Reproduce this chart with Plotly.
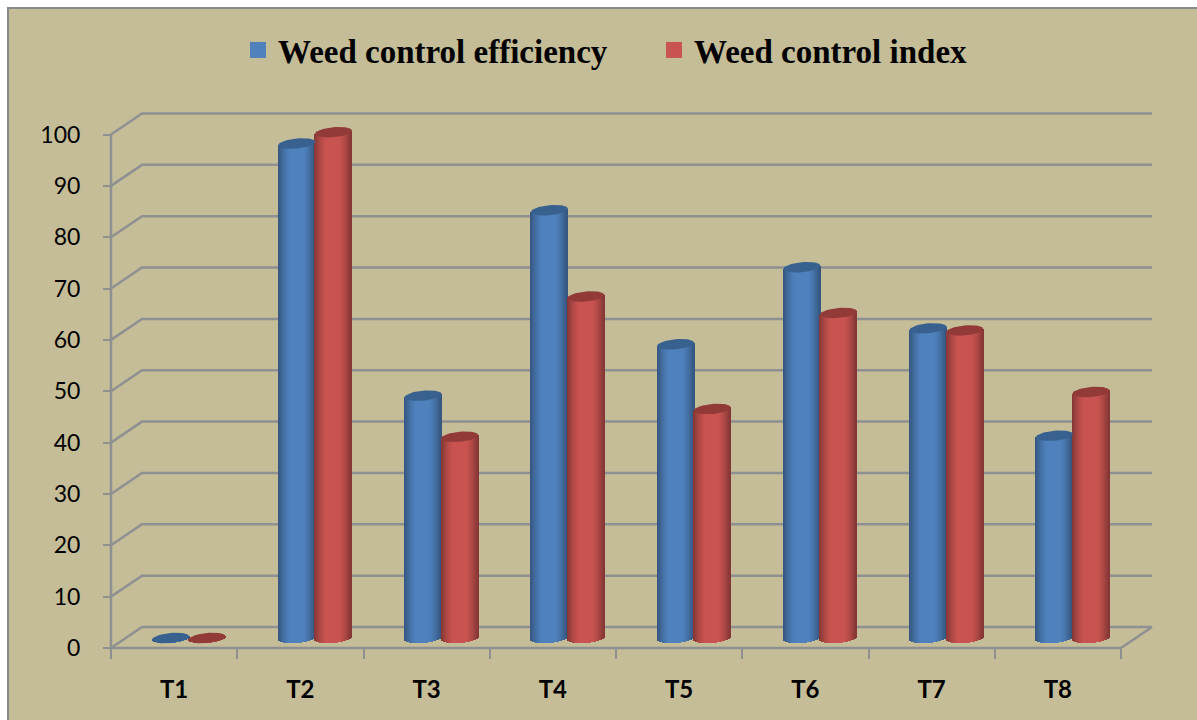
import numpy as np
import plotly.graph_objects as go

# Chart data
categories = ["T1", "T2", "T3", "T4", "T5", "T6", "T7", "T8"]
efficiency = [0, 96.3, 47.2, 83.3, 57.2, 72.2, 60.3, 39.4]
index_vals = [0, 98.5, 39.2, 66.5, 44.6, 63.3, 59.9, 47.9]
y_ticks = list(range(0, 101, 10))

# Figure geometry: one full-window subplot whose axes sit at free positions
W, H = 1197, 720
X0_PX, Y0_PX = 111, 648        # pixel position of the front origin
PX_PER_CAT = 126.25
PX_PER_UNIT = 5.135
x_left = -0.5 - X0_PX / PX_PER_CAT
x_range = [x_left, x_left + W / PX_PER_CAT]
y_range = [-(H - Y0_PX) / PX_PER_UNIT, Y0_PX / PX_PER_UNIT]
DX_WALL = 31 / PX_PER_CAT      # depth offset of the back wall
DY_WALL = 21 / PX_PER_UNIT
DY_MID = 10 / PX_PER_UNIT      # vertical depth offset of the cylinders

BAR_W = 37 / PX_PER_CAT
RY = 5 / PX_PER_UNIT           # vertical radius of the end ellipses
TILT = 1.6 / PX_PER_UNIT       # rise of the ellipses towards the right
N_STRIPS = 37
GRID = "#8f9092"
BG = "#C4BD97"

series = [
    dict(name="Weed control efficiency", vals=efficiency, base=(79, 129, 189),
         cap="#38618f", shift=-3.5 / PX_PER_CAT),
    dict(name="Weed control index", vals=index_vals, base=(200, 83, 80),
         cap="#913a38", shift=33 / PX_PER_CAT),
]


def shade(rgb, u):
    """Cylinder shading: lit across the middle, darker at both edges."""
    k = 1 - 0.34 * min(1, max(0, (abs(u) - 0.35) / 0.65)) ** 1.4
    return "rgb({},{},{})".format(*[int(c * k) for c in rgb])


fig = go.Figure()
t = np.linspace(0, 2 * np.pi, 49)
x_cat = np.arange(len(categories), dtype=float)

for s in series:
    centers = x_cat + s["shift"]
    vals = np.array(s["vals"], dtype=float)
    # The cylinder body is a run of narrow vertical bars with shaded colours
    for k in range(N_STRIPS):
        u = (k + 0.5) / N_STRIPS * 2 - 1
        foot = DY_MID - RY * np.sqrt(1 - u * u) + TILT * u
        top = DY_MID + vals + TILT * u
        fig.add_trace(go.Bar(
            x=centers + u * BAR_W / 2,
            y=top - foot,
            base=[foot] * len(categories),
            width=BAR_W / N_STRIPS * 1.02,
            marker=dict(color=shade(s["base"], u), line_width=0),
            showlegend=False,
            hoverinfo="skip",
        ))
    # Elliptical caps, placed from the same values
    cap_x, cap_y = [], []
    for c, v in zip(centers, vals):
        cap_x += list(c + BAR_W / 2 * np.cos(t)) + [None]
        cap_y += list(DY_MID + v + RY * np.sin(t) + TILT * np.cos(t)) + [None]
    fig.add_trace(go.Scatter(
        x=cap_x, y=cap_y, mode="lines", fill="toself", fillcolor=s["cap"],
        line=dict(width=0, color=s["cap"]), showlegend=False, hoverinfo="skip",
    ))

# Legend keys
for s in series:
    fig.add_trace(go.Scatter(
        x=[None], y=[None], mode="markers", name=s["name"],
        marker=dict(symbol="square", size=16, color="rgb({},{},{})".format(*s["base"])),
    ))

# Walls, floor and frame
shapes = [
    dict(type="rect", xref="paper", yref="paper", x0=0, x1=1, y0=0, y1=1,
         fillcolor="white", line_width=0, layer="below"),
    dict(type="rect", xref="paper", yref="paper", x0=8 / W, x1=1.01, y0=-0.01, y1=1 - 8 / H,
         fillcolor=BG, line=dict(color="#8a8a8a", width=2), layer="below"),
]
x_front, x_end = -0.5, len(categories) - 0.5
for v in y_ticks:
    shapes.append(dict(
        type="path", xref="x", yref="y", layer="below",
        path=f"M{x_front},{v} L{x_front + DX_WALL},{v + DY_WALL} L{x_end + DX_WALL},{v + DY_WALL}",
        line=dict(color=GRID, width=2.5),
    ))
shapes.append(dict(type="line", xref="x", yref="y", layer="below", x0=x_front, x1=x_front,
                   y0=0, y1=y_ticks[-1], line=dict(color=GRID, width=2.5)))
shapes.append(dict(type="line", xref="x", yref="y", layer="below", x0=x_front, x1=x_end,
                   y0=0, y1=0, line=dict(color=GRID, width=2.5)))
shapes.append(dict(type="line", xref="x", yref="y", layer="below", x0=x_end, x1=x_end + DX_WALL,
                   y0=0, y1=DY_WALL, line=dict(color=GRID, width=2.5)))

fig.update_layout(
    width=W, height=H,
    margin=dict(l=0, r=0, t=0, b=0),
    paper_bgcolor=BG,
    plot_bgcolor="rgba(0,0,0,0)",
    barmode="overlay",
    bargap=0,
    shapes=shapes,
    showlegend=True,
    legend=dict(
        orientation="h", x=238 / W, xanchor="left", y=1 - 50 / H, yanchor="middle",
        font=dict(family="Liberation Serif", size=33, color="#000000", weight="bold"),
        bgcolor="rgba(0,0,0,0)", itemclick=False, traceorder="normal",
        entrywidth=371, entrywidthmode="pixels",
    ),
    xaxis=dict(
        domain=[0, 1], range=x_range, anchor="free", position=1 - Y0_PX / H,
        tickmode="array", tickvals=[x_front + i for i in range(len(categories) + 1)],
        ticktext=[""] * (len(categories) + 1),
        ticks="outside", ticklen=10, tickwidth=2, tickcolor=GRID,
        showgrid=False, zeroline=False, showline=False, fixedrange=True,
    ),
    xaxis2=dict(
        domain=[0, 1], range=x_range, overlaying="x", anchor="free", position=1 - Y0_PX / H,
        side="bottom", tickmode="array", tickvals=list(x_cat), ticktext=categories,
        ticks="", ticklabelstandoff=25,
        tickfont=dict(family="Lato", size=24, color="#000000", weight="bold"),
        showgrid=False, zeroline=False, showline=False, fixedrange=True,
    ),
    yaxis=dict(
        domain=[0, 1], range=y_range, anchor="free", position=X0_PX / W,
        tickmode="array", tickvals=y_ticks,
        ticks="outside", ticklen=8, tickwidth=2, tickcolor=GRID,
        ticklabelstandoff=18, tickfont=dict(family="Lato", size=23, color="#000000"),
        showgrid=False, zeroline=False, showline=False, fixedrange=True,
    ),
)
# A transparent point puts the category labels' axis into the figure
fig.add_trace(go.Scatter(x=list(x_cat), y=[0] * len(categories), xaxis="x2", mode="markers",
                         marker=dict(opacity=0), showlegend=False, hoverinfo="skip"))

fig.write_html("out.html", config=dict(displayModeBar=False))
